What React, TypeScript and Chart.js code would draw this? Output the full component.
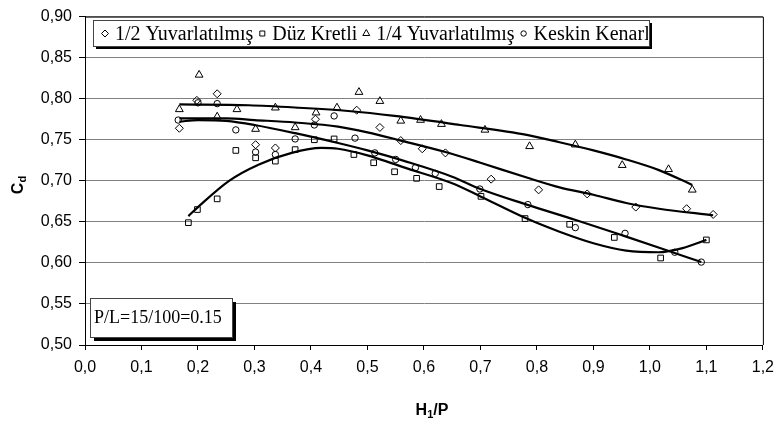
import React, { useEffect, useRef } from 'react';
import { Chart, registerables } from 'chart.js';

Chart.register(...registerables);

// ---------- data ----------
const seriesNames = ['1/2 Yuvarlatılmış', 'Düz Kretli', '1/4 Yuvarlatılmış', 'Keskin Kenarlı'];

// 1/2 Yuvarlatılmış (diamonds)
const halfX = [0.167, 0.198, 0.234, 0.302, 0.337, 0.408, 0.481, 0.522, 0.559, 0.597, 0.638, 0.719, 0.803, 0.889, 0.975, 1.065, 1.112];
const halfY = [0.764, 0.798, 0.806, 0.744, 0.740, 0.775, 0.786, 0.765, 0.749, 0.739, 0.734, 0.702, 0.689, 0.684, 0.668, 0.666, 0.659];

// Düz Kretli (squares)
const flatX = [0.183, 0.199, 0.234, 0.267, 0.302, 0.337, 0.372, 0.406, 0.441, 0.476, 0.511, 0.548, 0.587, 0.627, 0.701, 0.779, 0.858, 0.937, 1.019, 1.100];
const flatY = [0.649, 0.665, 0.678, 0.737, 0.728, 0.724, 0.738, 0.750, 0.751, 0.732, 0.722, 0.711, 0.703, 0.693, 0.681, 0.654, 0.647, 0.631, 0.606, 0.628];

// 1/4 Yuvarlatılmış (triangles)
const quarterX = [0.167, 0.202, 0.234, 0.269, 0.302, 0.337, 0.372, 0.409, 0.446, 0.485, 0.522, 0.559, 0.594, 0.631, 0.708, 0.787, 0.868, 0.951, 1.033, 1.075];
const quarterY = [0.787, 0.829, 0.778, 0.787, 0.763, 0.789, 0.765, 0.783, 0.789, 0.808, 0.797, 0.773, 0.774, 0.769, 0.762, 0.742, 0.744, 0.719, 0.714, 0.689];

// Keskin Kenarlı (circles)
const sharpX = [0.165, 0.200, 0.234, 0.267, 0.302, 0.337, 0.372, 0.406, 0.441, 0.478, 0.513, 0.550, 0.585, 0.620, 0.699, 0.784, 0.868, 0.956, 1.044, 1.091];
const sharpY = [0.774, 0.795, 0.794, 0.762, 0.735, 0.732, 0.751, 0.768, 0.779, 0.752, 0.734, 0.726, 0.716, 0.709, 0.690, 0.671, 0.643, 0.636, 0.613, 0.601];

// trend curves
const halfTrendX = [0.167, 0.25, 0.3, 0.372, 0.448, 0.5, 0.559, 0.638, 0.7, 0.782, 0.84, 0.9, 0.958, 1.016, 1.112];
const halfTrendY = [0.776, 0.776, 0.774, 0.771, 0.766, 0.759, 0.749, 0.735, 0.722, 0.704, 0.692, 0.683, 0.673, 0.666, 0.658];

const flatTrendX = [0.183, 0.2, 0.255, 0.308, 0.366, 0.418, 0.448, 0.5, 0.566, 0.65, 0.7, 0.782, 0.84, 0.9, 0.958, 1.016, 1.058, 1.1];
const flatTrendY = [0.657, 0.668, 0.700, 0.720, 0.734, 0.740, 0.739, 0.731, 0.716, 0.697, 0.681, 0.654, 0.638, 0.624, 0.615, 0.613, 0.618, 0.628];

const quarterTrendX = [0.167, 0.29, 0.378, 0.466, 0.548, 0.664, 0.782, 0.84, 0.9, 0.958, 1.016, 1.075];
const quarterTrendY = [0.793, 0.792, 0.789, 0.785, 0.779, 0.768, 0.756, 0.747, 0.737, 0.726, 0.713, 0.695];

const sharpTrendX = [0.167, 0.2, 0.25, 0.3, 0.372, 0.448, 0.5, 0.566, 0.65, 0.7, 0.782, 0.87, 0.958, 1.023, 1.091];
const sharpTrendY = [0.772, 0.774, 0.773, 0.768, 0.758, 0.746, 0.737, 0.724, 0.705, 0.690, 0.671, 0.652, 0.632, 0.617, 0.601];

const annotationText = 'P/L=15/100=0.15';
const yTitleMain = 'C';
const yTitleSub = 'd';
const xTitleParts = ['H', '1', '/P'];

const pts = (xs: number[], ys: number[]) => xs.map((x, i) => ({ x, y: ys[i] }));

const markerStyles = ['rectRot', 'rect', 'triangle', 'circle'];

function drawMarker(ctx: CanvasRenderingContext2D, style: string, x: number, y: number) {
  ctx.beginPath();
  if (style === 'rectRot') {
    const r = 3.5;
    ctx.moveTo(x - r, y); ctx.lineTo(x, y - r); ctx.lineTo(x + r, y); ctx.lineTo(x, y + r); ctx.closePath();
  } else if (style === 'rect') {
    const s = 2.5;
    ctx.rect(x - s, y - s, 2 * s, 2 * s);
  } else if (style === 'triangle') {
    const r = 4;
    ctx.moveTo(x, y - r); ctx.lineTo(x + r * 0.866, y + r * 0.5); ctx.lineTo(x - r * 0.866, y + r * 0.5); ctx.closePath();
  } else {
    ctx.arc(x, y, 2.7, 0, Math.PI * 2);
  }
  ctx.stroke();
}

const decorPlugin = {
  id: 'decor',
  afterDraw(chart: any) {
    const ctx: CanvasRenderingContext2D = chart.ctx;
    const a = chart.chartArea;
    ctx.save();
    // frame
    ctx.strokeStyle = '#000';
    ctx.lineWidth = 1;
    ctx.beginPath();
    ctx.moveTo(a.left, a.top + 0.5);
    ctx.lineTo(a.right + 0.5, a.top + 0.5);
    ctx.lineTo(a.right + 0.5, a.bottom);
    ctx.stroke();

    // legend box
    const lx = 93, ly = 20, lw = 556, lh = 26;
    ctx.fillStyle = '#000';
    ctx.fillRect(lx + 3, ly + 3, lw, lh);
    ctx.fillStyle = '#fff';
    ctx.fillRect(lx, ly, lw, lh);
    ctx.strokeStyle = '#444';
    ctx.strokeRect(lx + 0.5, ly + 0.5, lw, lh);
    ctx.save();
    ctx.beginPath();
    ctx.rect(lx + 1, ly + 1, lw - 2, lh - 2);
    ctx.clip();
    ctx.font = '20px "Liberation Serif", "Times New Roman", serif';
    ctx.textBaseline = 'middle';
    ctx.fillStyle = '#000';
    ctx.strokeStyle = '#000';
    let cx = lx + 12;
    const cy = ly + lh / 2 + 0.5;
    seriesNames.forEach((name, i) => {
      drawMarker(ctx, markerStyles[i], cx, cy);
      const tx = cx + 10;
      ctx.fillText(name, tx, cy + 1);
      cx = tx + ctx.measureText(name).width + 9;
    });
    ctx.restore();

    // annotation box
    const bx = 90, by = 298, bw = 142, bh = 39;
    ctx.fillStyle = '#000';
    ctx.fillRect(bx + 4, by + 4, bw, bh);
    ctx.fillStyle = '#fff';
    ctx.fillRect(bx, by, bw, bh);
    ctx.strokeStyle = '#444';
    ctx.strokeRect(bx + 0.5, by + 0.5, bw, bh);
    ctx.fillStyle = '#000';
    ctx.font = '18px "Liberation Serif", "Times New Roman", serif';
    ctx.textBaseline = 'middle';
    ctx.fillText(annotationText, bx + 4, by + bh / 2 + 1);

    // y title
    ctx.save();
    ctx.translate(17, 185);
    ctx.rotate(-Math.PI / 2);
    ctx.font = 'bold 16px "Liberation Sans", Arial, sans-serif';
    const wC = ctx.measureText(yTitleMain).width;
    ctx.font = 'bold 11px "Liberation Sans", Arial, sans-serif';
    const wd = ctx.measureText(yTitleSub).width;
    const sx = -(wC + wd) / 2;
    ctx.textBaseline = 'alphabetic';
    ctx.font = 'bold 16px "Liberation Sans", Arial, sans-serif';
    ctx.fillText(yTitleMain, sx, 6);
    ctx.font = 'bold 11px "Liberation Sans", Arial, sans-serif';
    ctx.fillText(yTitleSub, sx + wC, 9);
    ctx.restore();

    // x title
    ctx.save();
    const big = 'bold 16px "Liberation Sans", Arial, sans-serif';
    const small = 'bold 11px "Liberation Sans", Arial, sans-serif';
    ctx.font = big; const w1 = ctx.measureText(xTitleParts[0]).width; const w3 = ctx.measureText(xTitleParts[2]).width;
    ctx.font = small; const w2 = ctx.measureText(xTitleParts[1]).width;
    let px = 432 - (w1 + w2 + w3) / 2;
    const base = 415;
    ctx.textBaseline = 'alphabetic';
    ctx.font = big; ctx.fillText(xTitleParts[0], px, base); px += w1;
    ctx.font = small; ctx.fillText(xTitleParts[1], px, base + 3); px += w2;
    ctx.font = big; ctx.fillText(xTitleParts[2], px, base);
    ctx.restore();

    ctx.restore();
  },
};

export default function App() {
  const ref = useRef<HTMLCanvasElement | null>(null);
  useEffect(() => {
    if (!ref.current) return;
    const scatterCommon = {
      type: 'scatter' as const,
      showLine: false,
      borderColor: '#000',
      backgroundColor: 'rgba(0,0,0,0)',
      pointBorderWidth: 1,
    };
    const lineCommon = {
      type: 'scatter' as const,
      showLine: true,
      borderColor: '#000',
      borderWidth: 2.2,
      pointRadius: 0,
      cubicInterpolationMode: 'monotone' as const,
      fill: false,
    };
    const chart = new Chart(ref.current, {
      type: 'scatter',
      data: {
        datasets: [
          { ...lineCommon, label: 't1', data: pts(halfTrendX, halfTrendY) },
          { ...lineCommon, label: 't2', data: pts(flatTrendX, flatTrendY) },
          { ...lineCommon, label: 't3', data: pts(quarterTrendX, quarterTrendY) },
          { ...lineCommon, label: 't4', data: pts(sharpTrendX, sharpTrendY) },
          { ...scatterCommon, label: seriesNames[0], data: pts(halfX, halfY), pointStyle: 'rectRot', pointRadius: 4 },
          { ...scatterCommon, label: seriesNames[1], data: pts(flatX, flatY), pointStyle: 'rect', pointRadius: 4 },
          { ...scatterCommon, label: seriesNames[2], data: pts(quarterX, quarterY), pointStyle: 'triangle', pointRadius: 4.5 },
          { ...scatterCommon, label: seriesNames[3], data: pts(sharpX, sharpY), pointStyle: 'circle', pointRadius: 3.2 },
        ] as any,
      },
      options: {
        responsive: false,
        animation: false,
        layout: { padding: { top: 12, right: 14, left: 0, bottom: 0 } },
        plugins: { legend: { display: false }, tooltip: { enabled: false } },
        scales: {
          x: {
            type: 'linear',
            min: 0,
            max: 1.2,
            afterFit: (s: any) => { s.height = 79; },
            ticks: {
              stepSize: 0.1,
              color: '#000',
              padding: 8,
              maxRotation: 0,
              font: { family: '"Liberation Sans", Arial, sans-serif', size: 16 },
              callback: (v: any) => Number(v).toFixed(1).replace('.', ','),
            },
            grid: { display: true, drawOnChartArea: false, drawTicks: true, tickLength: 5, tickColor: '#000' },
            border: { display: true, color: '#000', width: 1 },
          },
          y: {
            type: 'linear',
            min: 0.5,
            max: 0.9,
            afterFit: (s: any) => { s.width = 85; },
            ticks: {
              stepSize: 0.05,
              color: '#000',
              padding: 7,
              font: { family: '"Liberation Sans", Arial, sans-serif', size: 16 },
              callback: (v: any) => Number(v).toFixed(2).replace('.', ','),
            },
            grid: { color: '#808080', lineWidth: 1, drawTicks: true, tickLength: 6, tickColor: '#000' },
            border: { display: true, color: '#000', width: 1 },
          },
        },
      },
      plugins: [decorPlugin],
    });
    return () => chart.destroy();
  }, []);
  return (
    <div style={{ position: 'fixed', left: 0, top: 0, width: 782, height: 424, background: '#fff' }}>
      <canvas ref={ref} width={782} height={424} style={{ display: 'block' }} />
    </div>
  );
}
